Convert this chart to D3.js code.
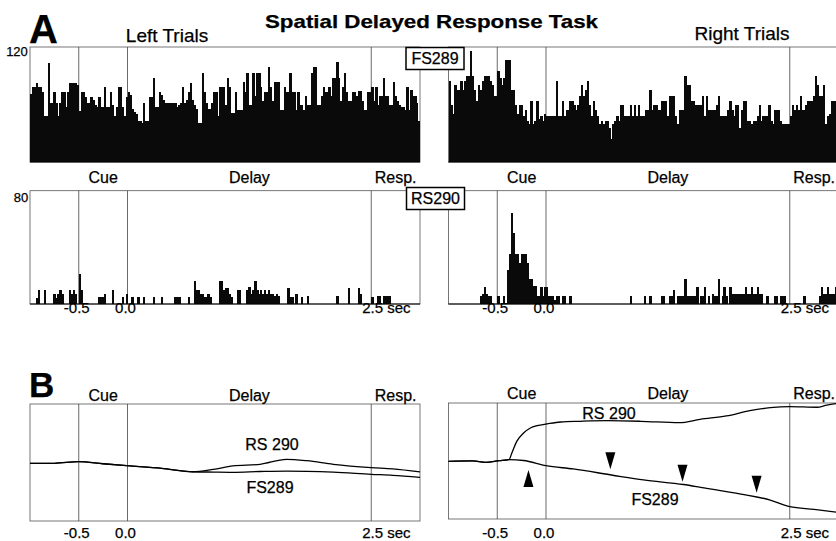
<!DOCTYPE html>
<html>
<head>
<meta charset="utf-8">
<script src="https://cdn.jsdelivr.net/npm/d3@7"></script>
<style>
  body { margin: 0; background: #fff; }
  svg { display: block; font-family: "Liberation Sans", Arial, Helvetica, sans-serif; }
  text { stroke: #000; stroke-width: 0.25; }
</style>
</head>
<body>
<script>
// 20 ms bins from -1.0 s to 3.0 s (200 bins), spikes/s
var binStart = -1, binSize = 0.02

var leftFS = [
  71, 78, 78, 82, 78, 78, 73, 48, 48, 103,
  62, 62, 73, 62, 48, 62, 73, 73, 57, 73,
  82, 82, 82, 82, 80, 53, 73, 73, 68, 62,
  62, 68, 65, 60, 57, 68, 57, 57, 78, 57,
  57, 73, 60, 48, 57, 78, 78, 57, 48, 68,
  73, 70, 55, 52, 50, 43, 43, 41, 62, 43,
  43, 68, 68, 88, 57, 57, 73, 70, 65, 62,
  62, 62, 62, 62, 62, 57, 60, 62, 78, 62,
  65, 73, 82, 65, 60, 55, 41, 41, 93, 73,
  62, 55, 55, 62, 73, 73, 48, 78, 78, 78,
  60, 88, 78, 51, 51, 73, 54, 54, 54, 83,
  73, 93, 59, 59, 93, 69, 93, 93, 78, 64,
  73, 73, 99, 78, 64, 83, 83, 83, 54, 54,
  78, 73, 73, 93, 73, 73, 54, 73, 59, 59,
  54, 69, 59, 59, 93, 99, 99, 59, 59, 69,
  78, 73, 73, 78, 69, 88, 88, 104, 88, 64,
  78, 93, 73, 64, 64, 73, 73, 69, 74, 74,
  64, 54, 54, 73, 73, 78, 64, 78, 60, 69,
  69, 88, 69, 69, 59, 59, 83, 69, 64, 59,
  57, 57, 54, 78, 54, 75, 69, 69, 62, 43
]
var rightFS = [
  85, 59, 50, 80, 75, 75, 85, 75, 85, 90,
  90, 116, 90, 75, 64, 80, 75, 85, 90, 90,
  90, 85, 80, 69, 69, 95, 88, 80, 88, 106,
  106, 106, 75, 75, 59, 50, 59, 59, 48, 54,
  43, 40, 64, 40, 43, 64, 45, 48, 43, 50,
  48, 48, 48, 48, 48, 85, 48, 48, 64, 48,
  54, 54, 64, 64, 59, 54, 59, 69, 80, 69,
  75, 85, 59, 48, 64, 54, 48, 40, 43, 40,
  43, 43, 36, 24, 40, 43, 48, 43, 59, 59,
  48, 48, 48, 59, 48, 59, 48, 59, 48, 48,
  48, 54, 54, 75, 54, 59, 59, 54, 54, 64,
  64, 64, 48, 69, 69, 69, 48, 40, 54, 54,
  54, 90, 80, 80, 64, 64, 59, 59, 59, 59,
  69, 48, 69, 54, 54, 54, 54, 59, 69, 48,
  48, 48, 48, 54, 64, 54, 48, 59, 59, 35,
  54, 64, 64, 43, 43, 40, 43, 43, 48, 59,
  43, 48, 48, 48, 59, 43, 40, 54, 54, 54,
  43, 40, 40, 40, 40, 48, 59, 54, 59, 54,
  69, 54, 54, 59, 64, 64, 64, 69, 90, 80,
  69, 69, 80, 40, 48, 50, 64, 64, 64, 64
]
var leftRS = [
  0, 0, 0, 4, 10, 0, 0, 10, 0, 0,
  0, 0, 7, 4, 7, 10, 7, 0, 0, 0,
  10, 7, 10, 7, 0, 21, 10, 0, 0, 0,
  0, 0, 0, 0, 0, 5, 5, 5, 7, 0,
  0, 0, 10, 0, 0, 0, 0, 5, 0, 7,
  0, 0, 5, 0, 0, 5, 0, 0, 5, 0,
  0, 0, 0, 5, 0, 0, 0, 5, 0, 0,
  0, 0, 0, 0, 5, 5, 5, 0, 0, 0,
  0, 5, 0, 0, 16, 10, 10, 7, 7, 5,
  5, 7, 5, 0, 0, 0, 0, 16, 16, 10,
  11, 11, 7, 5, 0, 0, 10, 10, 0, 0,
  0, 10, 12, 7, 10, 16, 10, 7, 10, 7,
  10, 7, 10, 7, 7, 6, 7, 6, 0, 0,
  0, 0, 11, 5, 5, 0, 7, 0, 0, 5,
  0, 0, 6, 0, 0, 0, 0, 0, 0, 0,
  0, 0, 0, 0, 0, 0, 0, 6, 0, 0,
  0, 0, 0, 11, 0, 0, 0, 0, 11, 7,
  0, 0, 0, 0, 0, 5, 0, 0, 6, 6,
  0, 6, 6, 6, 6, 0, 0, 0, 0, 0,
  0, 0, 0, 0, 0, 0, 0, 0, 0, 0
]
var rightRS = [
  0, 0, 0, 0, 0, 0, 0, 0, 0, 0,
  0, 0, 0, 0, 0, 0, 6, 7, 12, 7,
  6, 6, 0, 0, 0, 6, 0, 0, 6, 0,
  24, 35, 64, 50, 35, 35, 29, 35, 35, 35,
  29, 18, 18, 13, 13, 6, 6, 12, 6, 12,
  12, 6, 6, 6, 3, 6, 6, 0, 6, 6,
  0, 0, 6, 0, 0, 0, 0, 0, 0, 0,
  0, 0, 0, 0, 0, 0, 0, 0, 0, 0,
  0, 0, 0, 0, 0, 0, 0, 0, 0, 0,
  0, 0, 0, 6, 0, 0, 0, 0, 0, 0,
  6, 0, 0, 6, 0, 0, 0, 0, 0, 6,
  6, 0, 0, 6, 6, 10, 0, 6, 6, 6,
  6, 18, 6, 6, 6, 6, 6, 12, 0, 6,
  6, 12, 0, 6, 0, 7, 6, 6, 18, 0,
  6, 12, 6, 0, 12, 7, 7, 7, 7, 7,
  7, 7, 12, 7, 7, 12, 7, 7, 12, 7,
  7, 0, 0, 6, 0, 0, 0, 6, 6, 0,
  6, 6, 6, 0, 0, 0, 0, 0, 0, 0,
  0, 0, 6, 0, 0, 0, 0, 0, 0, 0,
  6, 12, 7, 7, 12, 7, 7, 7, 12, 0
]

// panel B: cumulative population traces (arbitrary units, 0-100)
var leftTimesB = [-1, -0.75, -0.5, -0.25, 0, 0.35, 0.67, 0.88, 1.08, 1.36, 1.63, 1.84, 2.11, 2.5, 2.72, 3.0]
var leftRSB = [48.9, 48.9, 50.3, 48.5, 46.8, 44.5, 41.6, 43.7, 46.6, 48.0, 52.3, 51.1, 48.0, 45.1, 44.0, 41.4]
var leftFSB = [48.9, 48.9, 50.3, 48.5, 46.8, 44.5, 41.6, 41.3, 41.1, 41.8, 42.2, 42.0, 41.3, 39.4, 38.5, 36.8]

var rightTimesRS = [-1, -0.75, -0.62, -0.48, -0.38, -0.35, -0.30, -0.23, -0.16, -0.09, 0.01, 0.15, 0.35, 0.63, 0.97, 1.37, 1.58, 1.85, 2.09, 2.30, 2.5, 2.78, 2.88, 3.0]
var rightRSB = [50.6, 50.9, 49.7, 51.1, 52.0, 57.8, 67.8, 75.0, 79.3, 81.3, 82.8, 84.5, 85.1, 85.6, 85.1, 83.9, 86.8, 89.7, 94.2, 96.8, 97.7, 97.2, 99.1, 100.6]
var rightTimesFS = [-1, -0.75, -0.62, -0.48, -0.38, -0.23, 0.0, 0.28, 0.67, 1.0, 1.41, 1.6, 2.0, 2.3, 2.5, 2.75, 3.0]
var rightFSB = [50.6, 50.9, 49.7, 51.1, 52.0, 51.3, 46.8, 44.0, 38.8, 34.5, 30.6, 28.0, 22.4, 17.2, 11.5, 9.1, 6.5]

// arrowheads on the right B panel: time, tip level, direction (1 up, -1 down)
var arrowTimes = [-0.18, 0.66, 1.40, 2.16]
var arrowTips = [43.1, 43.7, 33.0, 23.5]
var arrowDirs = [1, -1, -1, -1]

var eventTimes = [-0.5, 0, 2.5]
var phaseTimes = [-0.25, 1.25, 2.75]
var phaseLabels = ["Cue", "Delay", "Resp."]
var tickValues = [-0.5, 0, 2.5]
var tickLabels = ["-0.5", "0.0", "2.5 sec"]

var width = 836, height = 541
var svg = d3.select("body").append("svg")
    .attr("width", width)
    .attr("height", height)

svg.append("rect").attr("width", width).attr("height", height).attr("fill", "#fff")

var xLeft = d3.scaleLinear().domain([-1, 3]).range([30, 420])
var xRight = d3.scaleLinear().domain([-1, 3]).range([448.5, 838.5])

var yFS = d3.scaleLinear().domain([0, 120]).range([162, 47])
var yRS = d3.scaleLinear().domain([0, 80]).range([304, 190.7])
var yB = d3.scaleLinear().domain([0, 100]).range([520, 404])

function frame(g, x, top, bottom) {
    g.append("rect")
        .attr("x", x(-1)).attr("y", top)
        .attr("width", x(3) - x(-1)).attr("height", bottom - top)
        .attr("fill", "none").attr("stroke", "#555").attr("stroke-width", 0.8)
}

function events(g, x, top, bottom) {
    g.selectAll(null).data(eventTimes).enter().append("line")
        .attr("x1", d => x(d)).attr("x2", d => x(d))
        .attr("y1", top).attr("y2", bottom)
        .attr("stroke", "#444").attr("stroke-width", 0.8)
}

function histogram(g, x, y, values) {
    g.append("g").selectAll("rect")
        .data(values.map((v, i) => ({ t: binStart + i * binSize, v: v })).filter(d => d.v > 0))
        .enter().append("rect")
        .attr("x", d => x(d.t))
        .attr("width", d => x(d.t + binSize) - x(d.t) + 0.4)
        .attr("y", d => y(d.v))
        .attr("height", d => y(0) - y(d.v))
        .attr("fill", "#0a0a0a")
        .attr("shape-rendering", "crispEdges")
    g.append("line")
        .attr("x1", x(-1)).attr("x2", x(3))
        .attr("y1", y(0)).attr("y2", y(0))
        .attr("stroke", "#000").attr("stroke-width", 1.2)
}

function phaseText(g, x, baseline) {
    g.selectAll(null).data(phaseTimes).enter().append("text")
        .attr("x", d => x(d)).attr("y", baseline)
        .attr("text-anchor", "middle")
        .attr("font-size", 16)
        .text((d, i) => phaseLabels[i])
}

function tickText(g, x, baseline) {
    g.selectAll(null).data(tickValues).enter().append("text")
        .attr("x", (d, i) => i == 2 ? x(d) - 9 : x(d) - 2)
        .attr("y", baseline)
        .attr("text-anchor", (d, i) => i == 2 ? "start" : "middle")
        .attr("font-size", 15)
        .text((d, i) => tickLabels[i])
}

function nameBox(cx, top, label) {
    var g = svg.append("g")
    g.append("rect")
        .attr("x", cx - 29).attr("y", top)
        .attr("width", 58).attr("height", 22)
        .attr("fill", "#fff").attr("stroke", "#000").attr("stroke-width", 1.5)
    g.append("text")
        .attr("x", cx).attr("y", top + 16.5)
        .attr("text-anchor", "middle").attr("font-size", 16)
        .text(label)
}

var sides = [
    { x: xLeft, fs: leftFS, rs: leftRS },
    { x: xRight, fs: rightFS, rs: rightRS }
]

// ---- panel A histograms
sides.forEach(function (s) {
    var g = svg.append("g")
    frame(g, s.x, 47, 162)
    events(g, s.x, 47, 162)
    histogram(g, s.x, yFS, s.fs)

    var g2 = svg.append("g")
    frame(g2, s.x, 190.7, 304)
    events(g2, s.x, 190.7, 304)
    histogram(g2, s.x, yRS, s.rs)
    phaseText(g2, s.x, 182.5)
    tickText(g2, s.x, 313)
})

svg.append("text").attr("x", 17).attr("y", 56).attr("text-anchor", "middle")
    .attr("font-size", 13).text("120")
svg.append("text").attr("x", 21).attr("y", 201.5).attr("text-anchor", "middle")
    .attr("font-size", 13).text("80")

nameBox(435, 47.5, "FS289")
nameBox(435.5, 187.5, "RS290")

// ---- panel B traces
var line = function (x) {
    return d3.line().x(d => x(d[0])).y(d => yB(d[1])).curve(d3.curveMonotoneX)
}
var bFrames = [[404, 521], [403, 519]]
var bLabels = [401, 399]
sides.forEach(function (s, k) {
    var g = svg.append("g")
    frame(g, s.x, bFrames[k][0], bFrames[k][1])
    events(g, s.x, bFrames[k][0], bFrames[k][1])
    phaseText(g, s.x, bLabels[k])
    tickText(g, s.x, 538)
})

var traces = [
    [xLeft, d3.zip(leftTimesB, leftRSB)],
    [xLeft, d3.zip(leftTimesB, leftFSB)],
    [xRight, d3.zip(rightTimesRS, rightRSB)],
    [xRight, d3.zip(rightTimesFS, rightFSB)]
]
traces.forEach(function (tr) {
    svg.append("path")
        .attr("d", line(tr[0])(tr[1]))
        .attr("fill", "none").attr("stroke", "#000").attr("stroke-width", 1.3)
})

svg.selectAll(".arrow").data(arrowTimes).enter().append("path")
    .attr("class", "arrow")
    .attr("d", function (t, i) {
        var cx = xRight(t), tip = yB(arrowTips[i]), base = tip + arrowDirs[i] * 17
        return "M" + cx + "," + tip + "L" + (cx - 5) + "," + base + "L" + (cx + 5) + "," + base + "Z"
    })
    .attr("fill", "#000")

svg.append("text").attr("x", 272).attr("y", 450).attr("text-anchor", "middle").attr("font-size", 16).text("RS 290")
svg.append("text").attr("x", 270).attr("y", 493).attr("text-anchor", "middle").attr("font-size", 16).text("FS289")
svg.append("text").attr("x", 609).attr("y", 419).attr("text-anchor", "middle").attr("font-size", 16).text("RS 290")
svg.append("text").attr("x", 655).attr("y", 505).attr("text-anchor", "middle").attr("font-size", 16).text("FS289")

// ---- headings
svg.append("text").attr("x", 29).attr("y", 43).attr("font-size", 40).attr("font-weight", "bold").text("A")
svg.append("text").attr("x", 29).attr("y", 397).attr("font-size", 35).attr("font-weight", "bold").text("B")
svg.append("text").attr("x", 265).attr("y", 28)
    .attr("font-size", 19).attr("font-weight", "bold")
    .attr("textLength", 333).attr("lengthAdjust", "spacingAndGlyphs")
    .text("Spatial Delayed Response Task")
svg.append("text").attr("x", 167).attr("y", 41.5).attr("text-anchor", "middle").attr("font-size", 19).text("Left Trials")
svg.append("text").attr("x", 742).attr("y", 40).attr("text-anchor", "middle").attr("font-size", 19).text("Right Trials")
</script>
</body>
</html>
